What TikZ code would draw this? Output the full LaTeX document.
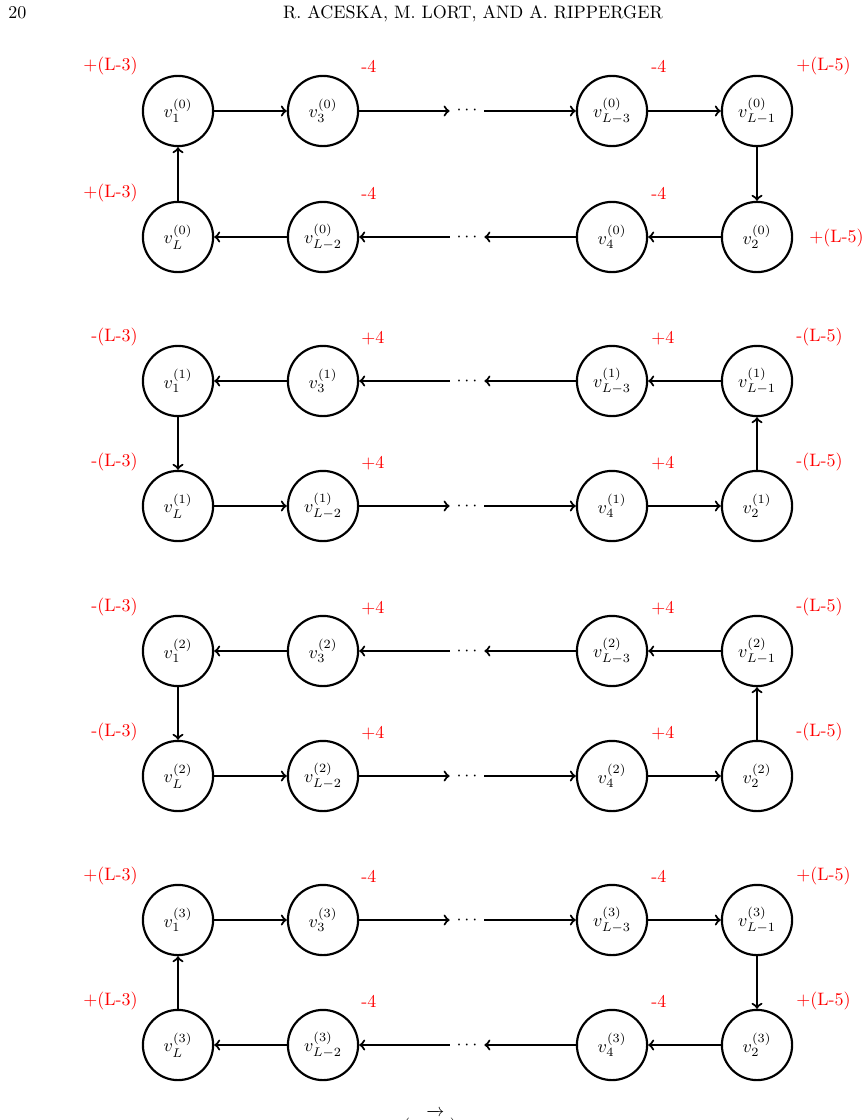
\documentclass[tikz,border=0pt]{standalone}
\usepackage{graphicx}
\begin{document}
\begin{tikzpicture}[x=0.5556pt,y=-0.5556pt,
  vert/.style={circle,draw,line width=1.2pt,minimum size=39pt,inner sep=0pt},
  dotn/.style={minimum width=18.9pt,minimum height=10pt,inner sep=0pt},
  arr/.style={->,line width=1.2pt},
  lab/.style={text=red,inner sep=0pt},
  head/.style={inner sep=0pt}]
\useasboundingbox (0,0) rectangle (868,1120);
\clip (0,0) rectangle (868,1120);
% running head
\node[head,anchor=base west] (pg) at (8,18.3) {20};
\node[head,anchor=base] (rh) at (473,18.3) {R. ACESKA, M. LORT, AND A. RIPPERGER};
% blocks
\foreach \k/\T/\B/\s/\f in {0/111/237/+/-,1/381/506/-/+,2/651/776/-/+,3/920/1045/+/-}{
  \node[vert] (n\k-1)  at (178,\T) {$v_1^{(\k)}$};
  \node[vert] (n\k-3)  at (323,\T) {$v_3^{(\k)}$};
  \node[dotn] (n\k-dt) at (467,\T) {$\cdots$};
  \node[vert] (n\k-L3) at (612,\T) {$v_{L-3}^{(\k)}$};
  \node[vert] (n\k-L1) at (757,\T) {$v_{L-1}^{(\k)}$};
  \node[vert] (n\k-L)  at (178,\B) {$v_L^{(\k)}$};
  \node[vert] (n\k-L2) at (323,\B) {$v_{L-2}^{(\k)}$};
  \node[dotn] (n\k-db) at (467,\B) {$\cdots$};
  \node[vert] (n\k-4)  at (612,\B) {$v_4^{(\k)}$};
  \node[vert] (n\k-2)  at (757,\B) {$v_2^{(\k)}$};
  \node[lab,anchor=base east] (la\k) at (138,\T-40) {\s(L-3)};
  \node[lab,anchor=base east] (lb\k) at (138,\B-40) {\s(L-3)};
  \node[lab,anchor=base west] (lc\k) at (361,\T-38) {\f4};
  \node[lab,anchor=base west] (ld\k) at (361,\B-38) {\f4};
  \node[lab,anchor=base west] (le\k) at (651,\T-38) {\f4};
  \node[lab,anchor=base west] (lf\k) at (651,\B-38) {\f4};
  \node[lab,anchor=base west] (lg\k) at (796,\T-40) {\s(L-5)};
}
\node[lab,anchor=base west] (lh0) at (809,242) {+(L-5)};
\foreach \k/\B in {1/506,2/776,3/1045}{
  \node[lab,anchor=base west] (lh\k) at (796,\B-40) {\ifnum\k=3 +\else -\fi(L-5)};
}
% forward cycles
\foreach \k in {0,3}{
  \draw[arr] (n\k-1) -- (n\k-3);
  \draw[arr] (n\k-3) -- (n\k-dt);
  \draw[arr] (n\k-dt) -- (n\k-L3);
  \draw[arr] (n\k-L3) -- (n\k-L1);
  \draw[arr] (n\k-L1) -- (n\k-2);
  \draw[arr] (n\k-2) -- (n\k-4);
  \draw[arr] (n\k-4) -- (n\k-db);
  \draw[arr] (n\k-db) -- (n\k-L2);
  \draw[arr] (n\k-L2) -- (n\k-L);
  \draw[arr] (n\k-L) -- (n\k-1);
}
% reversed cycles
\foreach \k in {1,2}{
  \draw[arr] (n\k-3) -- (n\k-1);
  \draw[arr] (n\k-dt) -- (n\k-3);
  \draw[arr] (n\k-L3) -- (n\k-dt);
  \draw[arr] (n\k-L1) -- (n\k-L3);
  \draw[arr] (n\k-2) -- (n\k-L1);
  \draw[arr] (n\k-4) -- (n\k-2);
  \draw[arr] (n\k-db) -- (n\k-4);
  \draw[arr] (n\k-L2) -- (n\k-db);
  \draw[arr] (n\k-L) -- (n\k-L2);
  \draw[arr] (n\k-1) -- (n\k-L);
}
% clipped caption fragment
\node[head,anchor=base] (cap) at (430,1131) {$(\hspace{9pt}\overrightarrow{\rule{0pt}{9pt}\hphantom{T}}\hspace{3pt})$};
\end{tikzpicture}
\end{document}
